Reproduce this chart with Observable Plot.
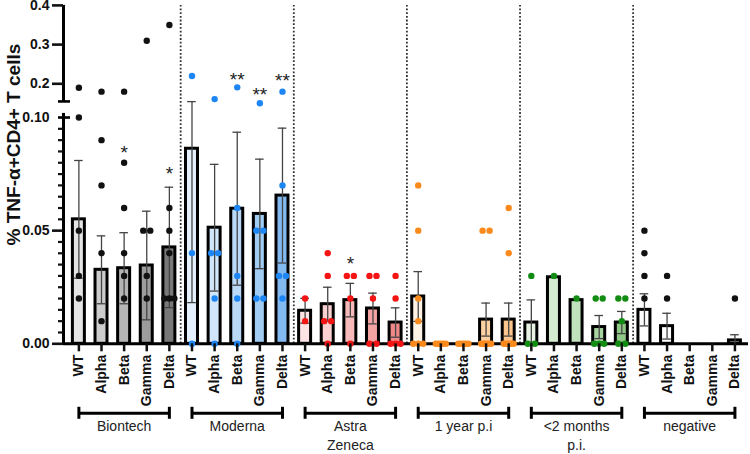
<!DOCTYPE html>
<html><head><meta charset="utf-8">
<script src="https://cdn.jsdelivr.net/npm/d3@7"></script>
<script src="https://cdn.jsdelivr.net/npm/@observablehq/plot@0.6"></script>
<style>body{margin:0;background:#fff}</style>
</head><body><div id="chart"></div>
<script>
// ---------- data ----------
const groups = ["Biontech", "Moderna", "Astra\nZeneca", "1 year p.i", "<2 months\np.i.", "negative"];
const variants = ["WT", "Alpha", "Beta", "Gamma", "Delta"];

const meanBiontech = [0.055, 0.0327, 0.0334, 0.0346, 0.0426];
const meanModerna  = [0.0862, 0.0513, 0.0597, 0.0574, 0.0655];
const meanAstra    = [0.0146, 0.0175, 0.0193, 0.0156, 0.0094];
const meanYear     = [0.0209, 0, 0, 0.0107, 0.0107];
const meanMonths   = [0.0094, 0.0294, 0.0193, 0.0074, 0.0094];
const meanNegative = [0.015, 0.0078, 0, 0, 0.0015];

const semBiontech = [0.026, 0.015, 0.0157, 0.024, 0.0266];
const semModerna  = [0.068, 0.028, 0.0338, 0.0242, 0.0298];
const semAstra    = [0.0055, 0.0075, 0.0074, 0.0068, 0.0065];
const semYear     = [0.011, 0, 0, 0.0073, 0.0073];
const semMonths   = [0.01, 0, 0, 0.0051, 0.0049];
const semNegative = [0.0071, 0.0057, 0, 0, 0.0025];

const dotsBiontech = [[0.19, 0.10, 0.05, 0.03, 0.02], [0.18, 0.09, 0.07, 0.04, 0.01], [0.18, 0.08, 0.06, 0.04, 0.03, 0.02], [0.31, 0.05, 0.05, 0.03, 0.02], [0.35, 0.06, 0.05, 0.04, 0.02, 0.02, 0.02]];
const dotsModerna  = [[0.22, 0.04, 0], [0.161, 0.04, 0.04, 0.02, 0], [0.191, 0.06, 0.03, 0.02, 0], [0.147, 0.05, 0.05, 0.02, 0.02], [0.18, 0.07, 0.03, 0.03, 0.02]];
const dotsAstra    = [[0.02, 0.01], [0.04, 0.03, 0.01, 0.01, 0], [0.03, 0.03, 0.02, 0], [0.03, 0.03, 0.02, 0, 0], [0.03, 0.02, 0, 0, 0]];
const dotsYear     = [[0.07, 0.05, 0.02, 0.01, 0, 0, 0], [0, 0, 0, 0, 0], [0, 0, 0, 0, 0], [0.05, 0.05, 0, 0, 0, 0, 0, 0], [0.06, 0.04, 0, 0, 0, 0, 0, 0]];
const dotsMonths   = [[0.03, 0, 0], [0.03], [0.02], [0.02, 0.02, 0, 0, 0], [0.02, 0.02, 0.01, 0, 0]];
const dotsNegative = [[0.05, 0.04, 0.03, 0.02], [0.03, 0.02], [], [], [0.02]];

// significance marks
const starGroup   = [0, 0, 1, 1, 1, 2];
const starVariant = [2, 4, 2, 3, 4, 2];
const starLevel   = [0.0866, 0.0773, 0.2237, 0.1847, 0.2212, 0.0376];
const starLabel   = ["*", "*", "**", "**", "**", "*"];

const yMajorTicks = [0, 0.05, 0.2, 0.3, 0.4];
const yLabelTicks = [0, 0.05, 0.10, 0.2, 0.3, 0.4];
const yLabelText  = ["0.00", "0.05", "0.10", "0.2", "0.3", "0.4"];
const yTitle = "% TNF-α+CD4+ T cells";

// ---------- styles ----------
const fills = [
  ["#e4e4e4", "#cdcdcd", "#b5b5b5", "#9c9c9c", "#787878"],
  ["#e4f0fc", "#d1e6fa", "#b9d9f7", "#a1ccf4", "#82b9f0"],
  ["#fde3e3", "#fad0d0", "#f7b9b9", "#f4a2a2", "#f08888"],
  ["#fff3e6", "#ffe8d0", "#ffdcb8", "#fdd0a2", "#fcc58c"],
  ["#e6f3e3", "#d4ebd0", "#c0e1bb", "#a8d4a1", "#8fc787"],
  ["#ffffff", "#ffffff", "#ffffff", "#ffffff", "#ffffff"]
];
const dotColors = ["#111111", "#1e86f4", "#f41414", "#fb8a1c", "#128c12", "#111111"];

// ---------- assemble ----------
const means = [meanBiontech, meanModerna, meanAstra, meanYear, meanMonths, meanNegative];
const sems  = [semBiontech, semModerna, semAstra, semYear, semMonths, semNegative];
const dots  = [dotsBiontech, dotsModerna, dotsAstra, dotsYear, dotsMonths, dotsNegative];

// broken y axis: lower segment 0..0.1018, upper segment 0.155..0.4 compressed
const LOW_TOP = 0.1018, UP_BOT = 0.155, GAP = 0.0053, UP_RATIO = 392 / 2263;
function brk(v) {
  if (v <= LOW_TOP) return v;
  if (v < UP_BOT) return LOW_TOP + (v - LOW_TOP) / (UP_BOT - LOW_TOP) * GAP;
  return LOW_TOP + GAP + (v - UP_BOT) * UP_RATIO;
}

const bars = [];
means.forEach((arr, g) => arr.forEach((m, k) => bars.push({i: g * 5 + k, mean: m, sem: sems[g][k], fill: fills[g][k]})));
const errs = bars.filter(d => d.sem > 0);

const dotRows = [];
dots.forEach((grp, g) => grp.forEach((vals, k) => {
  const counts = d3.rollup(vals, v => v.length, v => v);
  const seen = new Map();
  vals.forEach(v => {
    const c = counts.get(v), j = seen.get(v) || 0; seen.set(v, j + 1);
    const sp = c > 1 ? Math.min(0.31, 0.44 / (c - 1)) : 0;
    dotRows.push({x: g * 5 + k + (j - (c - 1) / 2) * sp, v, color: dotColors[g]});
  });
}));

const stars = starLevel.map((lv, s) => ({i: starGroup[s] * 5 + starVariant[s], lv, t: starLabel[s]}));

const XMIN = -0.68, XMAX = 29.6;
const HW = 0.265, CAP = 0.19;
const ticksX = d3.range(groups.length * variants.length);
const minor = d3.range(1, 20).map(k => k * 0.005).filter(v => Math.abs(v - 0.05) > 1e-9);
const labelMap = new Map(yLabelTicks.map((v, j) => [brk(v), yLabelText[j]]));

const font = "'Liberation Sans', Arial, Helvetica, sans-serif";

const chart = Plot.plot({
  width: 750,
  height: 454,
  marginLeft: 63,
  marginRight: 2,
  marginTop: 4.9,
  marginBottom: 110.7,
  style: {fontFamily: font, background: "#fff", color: "#111"},
  x: {type: "linear", domain: [XMIN, XMAX], axis: null},
  y: {type: "linear", domain: [0, brk(0.4)], axis: null},
  marks: [
    Plot.ruleX(d3.range(1, groups.length).map(g => g * 5 - 0.5), {y1: 0, y2: brk(0.4), stroke: "#333", strokeWidth: 1.8, strokeDasharray: "1.8,1.9"}),
    Plot.rectY(bars, {x1: d => d.i - HW, x2: d => d.i + HW, y1: 0, y2: d => brk(d.mean), fill: d => d.fill, stroke: "#000", strokeWidth: 3}),
    Plot.ruleY([0], {stroke: "#000", strokeWidth: 3}),
    Plot.ruleX(errs, {x: d => d.i, y1: d => brk(Math.max(0, d.mean - d.sem)), y2: d => brk(d.mean + d.sem), stroke: "#444", strokeWidth: 1.3}),
    Plot.ruleY(errs, {y: d => brk(d.mean + d.sem), x1: d => d.i - CAP, x2: d => d.i + CAP, stroke: "#444", strokeWidth: 1.3}),
    Plot.ruleY(errs.filter(d => d.mean - d.sem > 0.002), {y: d => brk(d.mean - d.sem), x1: d => d.i - CAP, x2: d => d.i + CAP, stroke: "#444", strokeWidth: 1.3}),
    Plot.dot(dotRows, {x: "x", y: d => brk(d.v), r: 3.2, fill: d => d.color, stroke: "none"}),
    Plot.text(stars, {x: "i", y: d => brk(d.lv), text: "t", fontSize: 19, dy: 5, fill: "#222"}),
    Plot.ruleX([XMIN], {y1: 0, y2: brk(LOW_TOP), stroke: "#000", strokeWidth: 3}),
    Plot.ruleX([XMIN], {y1: brk(UP_BOT), y2: brk(0.4), stroke: "#000", strokeWidth: 3}),
    Plot.ruleY([0.10, UP_BOT], {y: d => brk(d), x1: XMIN - 0.22, x2: XMIN + 0.31, stroke: "#000", strokeWidth: 2.6}),
    Plot.axisY(yMajorTicks.map(brk), {tickSize: 11, strokeWidth: 2.6, tickFormat: () => "", label: null}),
    Plot.axisY(minor.map(brk), {tickSize: 5, strokeWidth: 2.2, tickFormat: () => "", label: null}),
    Plot.axisY(yLabelTicks.map(brk), {tickSize: 0, tickPadding: 14, tickFormat: d => labelMap.get(d), fontSize: 14, fontWeight: "bold", label: null}),
    Plot.text([yTitle], {text: d => d, frameAnchor: "left", textAnchor: "middle", lineAnchor: "middle", rotate: -90, dx: -50, dy: -30, fontSize: 19, fontWeight: "bold", fill: "#111"}),
    Plot.axisX(ticksX, {anchor: "bottom", tickRotate: -90, tickSize: 8, tickPadding: 3, strokeWidth: 2.5, tickFormat: i => variants[i % variants.length], fontSize: 14, fontWeight: "bold", label: null}),
    Plot.ruleY(groups, {y: 0, x1: (d, g) => g * 5, x2: (d, g) => g * 5 + 4, dy: 69.5, stroke: "#000", strokeWidth: 3}),
    Plot.ruleX(groups.flatMap((d, g) => [g * 5, g * 5 + 4]), {y1: 0, y2: 0, insetTop: -6, insetBottom: -6, dy: 69.5, stroke: "#000", strokeWidth: 3}),
    Plot.text(groups, {x: (d, g) => g * 5 + 2, y: 0, dy: 74, text: d => d, lineAnchor: "top", lineHeight: 1.357, fontSize: 14, fill: "#222"})
  ]
});
document.getElementById("chart").appendChild(chart);
</script>
</body></html>
